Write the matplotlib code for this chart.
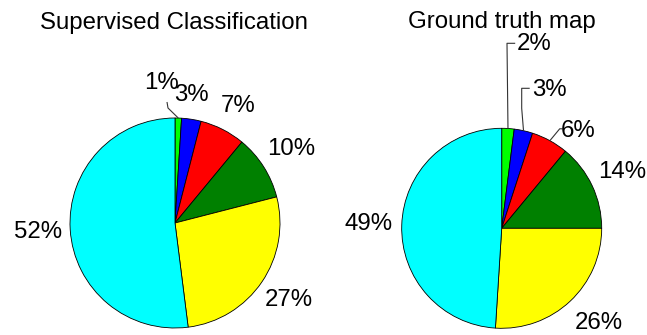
import numpy as np
import matplotlib
matplotlib.use("Agg")
import matplotlib.pyplot as plt

# Class shares (percent), listed clockwise from 12 o'clock
classes = ["Class 1", "Class 2", "Class 3", "Class 4", "Class 5", "Class 6"]
colors = ["#00ff00", "#0000ff", "#ff0000", "#008000", "#ffff00", "#00ffff"]
supervised_pct = [1, 3, 7, 10, 27, 52]
ground_truth_pct = [2, 3, 6, 14, 26, 49]
titles = ["Supervised Classification", "Ground truth map"]

W, H = 647, 335
plt.rcParams["font.family"] = ["Liberation Sans", "DejaVu Sans"]
FS = 17.3

fig = plt.figure(figsize=(W / 100, H / 100), dpi=100)
ax = fig.add_axes([0, 0, 1, 1])


def P(x, y):
    """Pixel position (origin top-left) -> axes data position (y up)."""
    return x, H - y


def draw_pie(values, center_px, radius, title_xy, label_dist, label_override, leaders):
    cx, cy = P(*center_px)
    wedges, _ = ax.pie(values, colors=colors, startangle=90, counterclock=False,
                       center=(cx, cy), radius=radius, frame=True,
                       wedgeprops=dict(edgecolor="black", linewidth=0.6))
    for i, (w, v) in enumerate(zip(wedges, values)):
        mid = np.deg2rad((w.theta1 + w.theta2) / 2)
        if label_override.get(i) is not None:
            dx, dy = label_override[i]
            tx, ty = cx + dx, cy + dy
        else:
            tx = cx + label_dist * radius * np.cos(mid)
            ty = cy + label_dist * radius * np.sin(mid)
        ax.text(tx, ty, f"{v}%", ha="center", va="center", fontsize=FS)
        if i in leaders:
            ex = cx + radius * np.cos(mid)
            ey = cy + radius * np.sin(mid)
            pts = [(ex, ey)] + [(cx + a, cy + b) for a, b in leaders[i]]
            xs, ys = zip(*pts)
            ax.plot(xs, ys, color="#333333", lw=0.8, solid_capstyle="butt")
    tx, ty = P(*title_xy)
    ax.text(tx, ty, title, ha="center", va="baseline", fontsize=FS)


title = titles[0]
draw_pie(supervised_pct, (175, 223), 105, (174, 29), 1.31,
         {0: (-13, 140), 1: (16, 128), 2: (63, 117)},
         {0: [(-7, 115), (-8, 121)]})

title = titles[1]
draw_pie(ground_truth_pct, (501.7, 228.3), 100, (502, 28), 1.33,
         {0: (32, 184), 1: (48, 138), 2: (76, 97), 4: (97, -95)},
         {0: [(5.3, 185), (13.5, 185)],
          1: [(20, 120), (20, 140), (28, 140)],
          2: [(58, 99.5), (61, 99.5)]})

ax.set_xlim(0, W)
ax.set_ylim(0, H)
ax.set_aspect("auto")
ax.axis("off")
fig.savefig("out.png", dpi=100, facecolor="white")
